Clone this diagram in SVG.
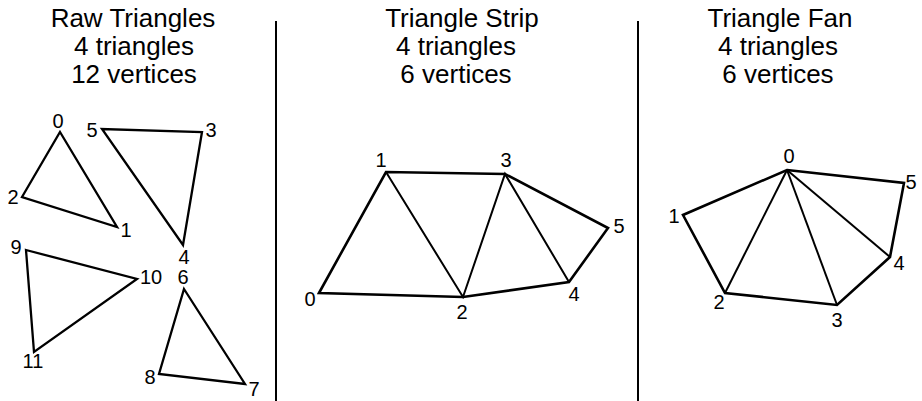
<svg xmlns="http://www.w3.org/2000/svg" width="922" height="401" viewBox="0 0 922 401">
<style>
text{font-family:"Liberation Sans",Arial,Helvetica,sans-serif;fill:#000;text-anchor:middle}
.t{font-size:26px}
.n{font-size:20px}
.tri{fill:none;stroke:#000;stroke-width:2.3;stroke-linejoin:miter}
.out{fill:none;stroke:#000;stroke-width:2.6;stroke-linejoin:miter}
.in{fill:none;stroke:#000;stroke-width:2}
.div{stroke:#000;stroke-width:2}
</style>
<rect width="922" height="401" fill="#fff"/>
<g id="titles">
<text class="t" x="133" y="27">Raw Triangles</text>
<text class="t" x="134" y="55">4 triangles</text>
<text class="t" x="134" y="83">12 vertices</text>
<text class="t" x="462" y="27">Triangle Strip</text>
<text class="t" x="456" y="55">4 triangles</text>
<text class="t" x="456" y="83">6 vertices</text>
<text class="t" x="780" y="27">Triangle Fan</text>
<text class="t" x="778" y="55">4 triangles</text>
<text class="t" x="778" y="83">6 vertices</text>
</g>
<g id="dividers">
<line class="div" x1="276" y1="21" x2="276" y2="401"/>
<line class="div" x1="638" y1="21" x2="638" y2="401"/>
</g>
<g id="raw">
<g id="raw-t0">
<polygon class="tri" points="60,132 117,227 22,197"/>
<text class="n" x="58" y="128">0</text>
<text class="n" x="126" y="237">1</text>
<text class="n" x="13" y="204">2</text>
</g>
<g id="raw-t1">
<polygon class="tri" points="202,132 183,245 102,129"/>
<text class="n" x="211" y="137">3</text>
<text class="n" x="184" y="264">4</text>
<text class="n" x="92" y="137">5</text>
</g>
<g id="raw-t2">
<polygon class="tri" points="184,289 245,384 159,374"/>
<text class="n" x="183" y="284">6</text>
<text class="n" x="254" y="396">7</text>
<text class="n" x="150" y="384">8</text>
</g>
<g id="raw-t3">
<polygon class="tri" points="26,250 137,279 34,352"/>
<text class="n" x="16" y="254">9</text>
<text class="n" x="151" y="284">10</text>
<text class="n" x="33" y="368">11</text>
</g>
</g>
<g id="strip">
<g id="strip-edges">
<polygon class="out" points="319,293 386,172 505,174 608,228 569,282 463,297"/>
<polyline class="in" points="386,172 463,297 505,174 569,282"/>
</g>
<g id="strip-labels">
<text class="n" x="310" y="306">0</text>
<text class="n" x="381" y="167">1</text>
<text class="n" x="462" y="319">2</text>
<text class="n" x="506" y="167">3</text>
<text class="n" x="574" y="301">4</text>
<text class="n" x="619" y="233">5</text>
</g>
</g>
<g id="fan">
<g id="fan-edges">
<polygon class="out" points="787,170 904,183 890,257 837,305 725,293 683,215"/>
<line class="in" x1="787" y1="170" x2="725" y2="293"/>
<line class="in" x1="787" y1="170" x2="837" y2="305"/>
<line class="in" x1="787" y1="170" x2="890" y2="257"/>
</g>
<g id="fan-labels">
<text class="n" x="789" y="163">0</text>
<text class="n" x="674" y="223">1</text>
<text class="n" x="719" y="309">2</text>
<text class="n" x="837" y="327">3</text>
<text class="n" x="899" y="270">4</text>
<text class="n" x="911" y="189">5</text>
</g>
</g>
</svg>
